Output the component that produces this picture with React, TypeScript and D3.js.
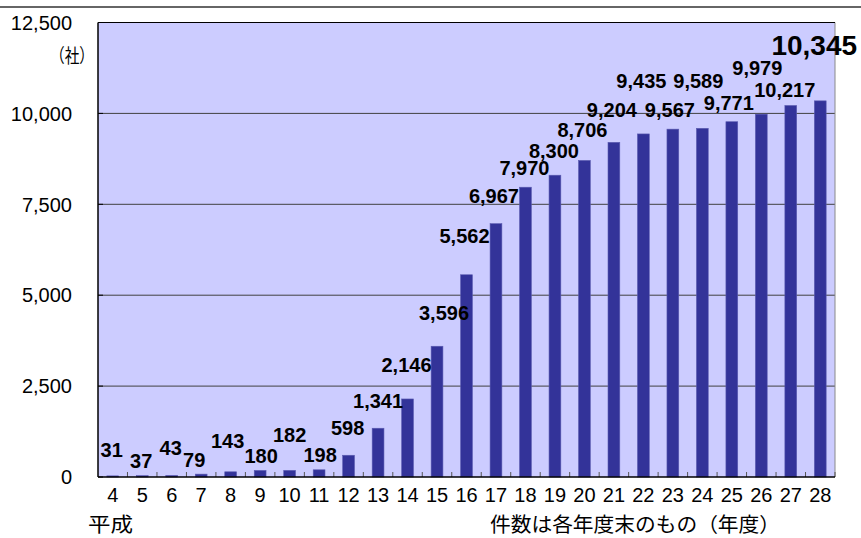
import React from "react";
import * as d3 from "d3";

// 平成4〜28年度
const years = ["4", "5", "6", "7", "8", "9", "10", "11", "12", "13", "14", "15", "16",
  "17", "18", "19", "20", "21", "22", "23", "24", "25", "26", "27", "28"];
const counts = [31, 37, 43, 79, 143, 180, 182, 198, 598, 1341, 2146, 3596, 5562,
  6967, 7970, 8300, 8706, 9204, 9435, 9567, 9589, 9771, 9979, 10217, 10345];
const yTicks = [0, 2500, 5000, 7500, 10000, 12500];

// hand-placed label nudges (dx, px above bar top), as in the original
const labelDx = [-1, -1, -1, -7, -3, 1, 0, 1, -1, 0, -1, 7, -2, -2, -1, -1, -2, -2, -2, -3, -4, -3, -4, -6, -6];
const labelLift = [19, 8, 20, 7, 24, 7, 28, 8, 20, 20, 27, 26, 32, 21, 12, 17, 23, 25, 46, 12, 40, 12, 39, 9, 46];

const W = 861;
const H = 538;
const m = { left: 98, right: 835, top: 22.5, bottom: 477 };
const font = '"Liberation Sans", "Noto Sans CJK JP", sans-serif';
const jpFont = '"Noto Sans CJK JP", sans-serif';

const App = () => {
  const x = d3.scaleBand<string>()
    .domain(years)
    .range([m.left, m.right])
    .paddingInner(0.6)
    .paddingOuter(0.3);
  const y = d3.scaleLinear().domain([0, 12500]).range([m.bottom, m.top]);
  const step = x.step();
  const fmt = d3.format(",");
  const last = counts.length - 1;

  return (
    <svg width={W} height={H} style={{ position: "absolute", left: 0, top: 0 }} fontFamily={font}>
      <rect width={W} height={H} fill="#ffffff" />
      <line x1={0} x2={W} y1={7} y2={7} stroke="#333333" strokeWidth={1.5} />

      {/* plot area */}
      <rect x={m.left} y={m.top} width={m.right - m.left} height={m.bottom - m.top} fill="#ccccff" />
      {yTicks.slice(1, -1).map(t => (
        <line key={t} x1={m.left} x2={m.right} y1={y(t)} y2={y(t)} stroke="#404040" strokeWidth={1} />
      ))}
      <line x1={m.right} x2={m.right} y1={m.top} y2={m.bottom} stroke="#8a8a8a" strokeWidth={1} />
      <line x1={m.left} x2={m.right} y1={m.top} y2={m.top} stroke="#000" strokeWidth={1} />

      {counts.map((v, i) => (
        <rect key={i} x={x(years[i])} y={y(v)} width={x.bandwidth()} height={m.bottom - y(v)}
          fill="#333399" stroke="#5a5ab0" strokeWidth={0.6} />
      ))}

      {/* category tick marks */}
      {years.map((yr, i) => (
        <line key={yr} x1={m.left + step * (i + 1)} x2={m.left + step * (i + 1)} y1={m.bottom} y2={m.bottom - 5}
          stroke="#555" strokeWidth={1} />
      ))}
      {yTicks.map(t => (
        <line key={t} x1={m.left} x2={m.left + 5} y1={y(t)} y2={y(t)} stroke="#000" strokeWidth={1} />
      ))}
      <line x1={m.left} x2={m.right} y1={m.bottom} y2={m.bottom} stroke="#000" strokeWidth={1.5} />
      <line x1={m.left} x2={m.left} y1={m.top} y2={m.bottom} stroke="#000" strokeWidth={1.5} />

      {/* y axis labels */}
      {yTicks.map(t => (
        <text key={t} x={72} y={y(t)} dy="0.36em" textAnchor="end" fontSize={20} fill="#000">
          {fmt(t)}
        </text>
      ))}
      <text x={50} y={63} fontSize={19} fontFamily={jpFont} textLength={44} lengthAdjust="spacingAndGlyphs">（社）</text>

      {/* x axis labels */}
      {years.map(yr => (
        <text key={yr} x={(x(yr) as number) + x.bandwidth() / 2} y={502} textAnchor="middle" fontSize={20}>
          {yr}
        </text>
      ))}
      <text x={88} y={532} fontSize={20} fontFamily={jpFont} textLength={45} lengthAdjust="spacingAndGlyphs">平成</text>
      <text x={490} y={532} fontSize={20} fontFamily={jpFont} textLength={290} lengthAdjust="spacingAndGlyphs">
        件数は各年度末のもの（年度）
      </text>

      {/* value labels */}
      {counts.map((v, i) => (
        <text key={i} x={(x(years[i]) as number) + x.bandwidth() / 2 + labelDx[i]} y={y(v) - labelLift[i]}
          textAnchor="middle" fontWeight="bold" fontSize={i === last ? 28 : 20} fill="#000">
          {fmt(v)}
        </text>
      ))}
    </svg>
  );
};

export default App;
